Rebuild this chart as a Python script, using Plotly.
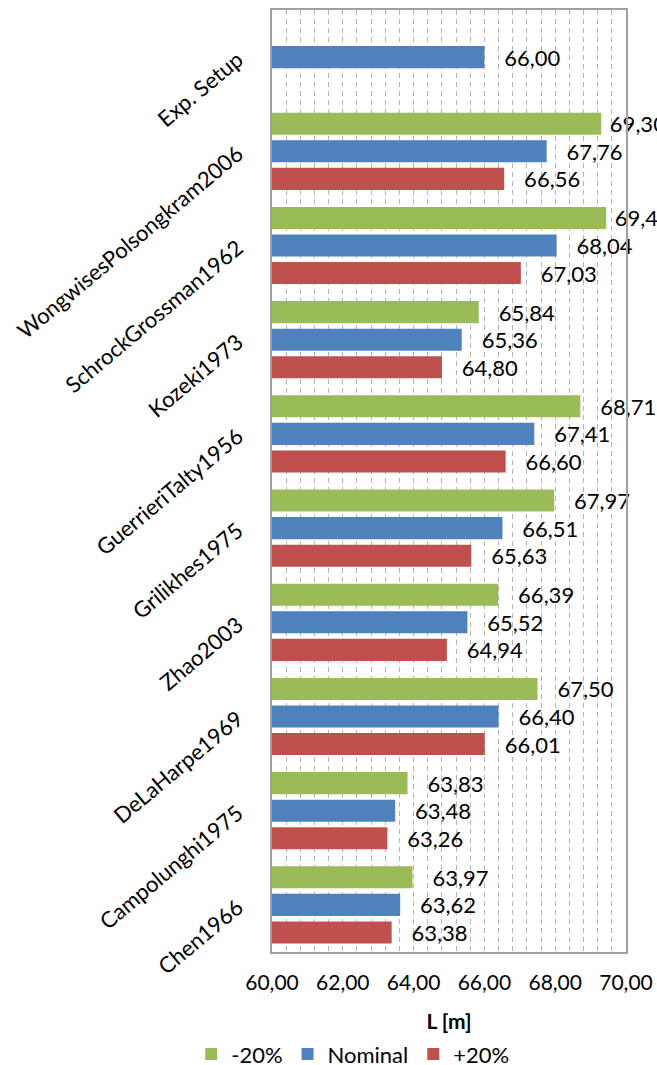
import plotly.graph_objects as go

categories = ["Exp. Setup", "WongwisesPolsongkram2006", "SchrockGrossman1962", "Kozeki1973",
              "GuerrieriTalty1956", "Grilikhes1975", "Zhao2003", "DeLaHarpe1969",
              "Campolunghi1975", "Chen1966"]
minus20 = [None, 69.30, 69.44, 65.84, 68.71, 67.97, 66.39, 67.50, 63.83, 63.97]
nominal = [66.00, 67.76, 68.04, 65.36, 67.41, 66.51, 65.52, 66.40, 63.48, 63.62]
plus20 = [None, 66.56, 67.03, 64.80, 66.60, 65.63, 64.94, 66.01, 63.26, 63.38]
series_names = ["-20%", "Nominal", "+20%"]
colors = ["#9BBB59", "#4F81BD", "#C0504D"]

FONT = "Lato, Open Sans, sans-serif"
GRID = "#B4B4B4"


def label(v):
    # labels near the right edge sit closer to the bar end (as in the original)
    if v is None:
        return None
    pad = " " if v > 69 else "   "
    return pad + f"{v:.2f}".replace(".", ",")


fig = go.Figure()
for name, vals, col in zip(series_names, [minus20, nominal, plus20], colors):
    fig.add_trace(go.Bar(
        y=categories, x=vals, name=name, orientation="h",
        marker=dict(color=col, line=dict(width=0)),
        text=[label(v) for v in vals], texttemplate="%{text}", textposition="outside",
        textfont=dict(family=FONT, size=22, color="#000000"),
        cliponaxis=False, constraintext="none",
    ))

fig.update_layout(
    width=657, height=1065,
    margin=dict(l=272, r=31, t=10, b=113, autoexpand=False),
    paper_bgcolor="white", plot_bgcolor="white",
    separators=",.",
    barmode="group", bargap=0.122, bargroupgap=0.2,
    font=dict(family=FONT, size=21, color="#000000"),
    legend=dict(orientation="h", x=0.228, xanchor="center", y=-0.0862, yanchor="top",
                font=dict(family=FONT, size=22), traceorder="normal"),
    showlegend=True,
)
fig.update_xaxes(
    range=[60, 70], dtick=2, tickformat=".2f", tick0=60,
    showgrid=True, gridcolor=GRID, griddash="5px,4px", gridwidth=1,
    minor=dict(dtick=0.4, tick0=60, showgrid=True, gridcolor=GRID, griddash="5px,4px"),
    ticks="", showline=True, linecolor="#A0A0A0", linewidth=2, mirror=True,
    tickfont=dict(family=FONT, size=21),
    title=dict(text="<b>L [m]</b>", font=dict(family=FONT, size=21), standoff=21),
    zeroline=False, ticklabelstandoff=11, automargin=False,
)
fig.update_yaxes(
    autorange="reversed", tickangle=-40, showline=True, linecolor="#A0A0A0",
    linewidth=2, mirror=True, ticks="", tickfont=dict(family=FONT, size=22),
    showgrid=False, ticklabelstandoff=28, automargin=False,
)
fig.write_html("out.html")
